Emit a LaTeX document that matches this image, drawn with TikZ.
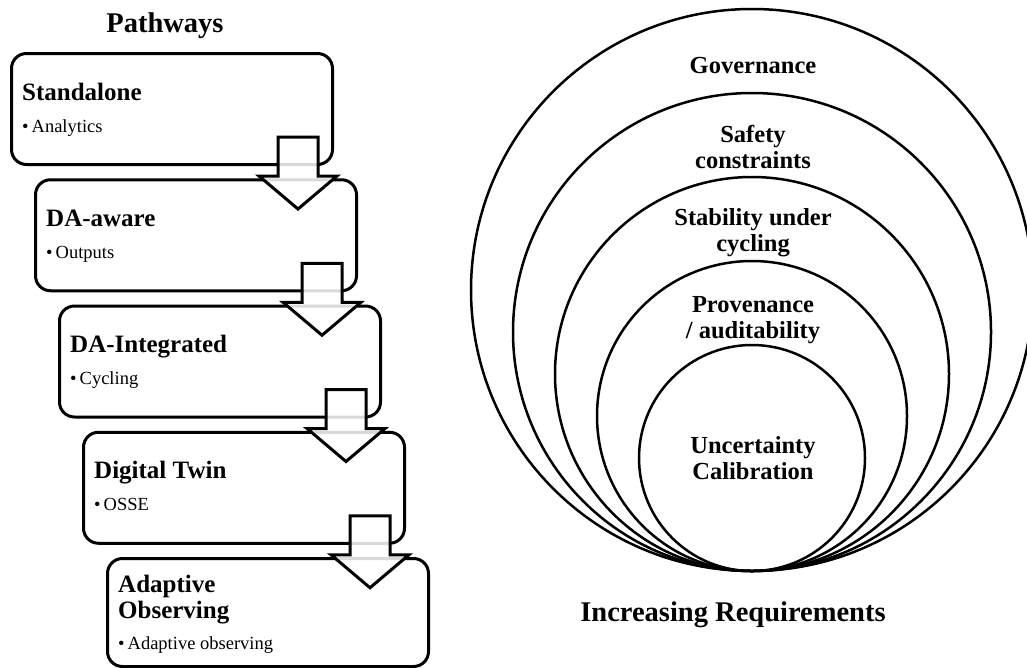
\documentclass[tikz,border=0pt]{standalone}
\usepackage{fontspec}
\setmainfont{Liberation Serif}

\tikzset{
	stage/.style={draw, line width=3pt, rounded corners=15pt, minimum width=321pt, minimum height=111pt, inner sep=0pt, anchor=north west},
	stagetitle/.style={anchor=base west, inner sep=0pt, align=left, font=\fontsize{25}{26}\selectfont\bfseries},
	stageitem/.style={anchor=base west, inner sep=0pt, font=\fontsize{18.5}{20}\selectfont},
	flow/.style={draw, line width=3pt, fill=white, fill opacity=.85, line join=miter},
	ring/.style={line width=2.5pt},
	ringlabel/.style={anchor=base, inner sep=0pt, align=center, font=\fontsize{24.5}{26}\selectfont\bfseries},
	heading/.style={anchor=base, inner sep=0pt, font=\fontsize{28.5}{30}\selectfont\bfseries}
}

% block arrow hanging off the lower right corner of a stage
\newcommand\flowarrow[1]{\draw[flow] (#1.south east) ++(-56,-29) -- ++(40,0) -- ++(0,39) -- ++(19,0) -- ++(-39,33) -- ++(-39,-33) -- ++(19,0) -- cycle;}

\begin{document}
\begin{tikzpicture}[x=1pt, y=-1pt]
	\useasboundingbox (0,0) rectangle (1027,667);

	% pathways
	\node[heading] (pathways) at (165,32) {Pathways};
	\node[stage] (s1) at (10,52)      {};
	\node[stage] (s2) at (34,178.25)  {};
	\node[stage] (s3) at (58,304.5)   {};
	\node[stage] (s4) at (82,430.75)  {};
	\node[stage, minimum height=108pt] (s5) at (106,557) {};

	\node[stagetitle] (t1) at ([shift={(12,48)}]s1.north west) {Standalone};
	\node[stageitem]  (i1) at ([shift={(12,80)}]s1.north west) {\textbullet\hspace{3pt}Analytics};
	\node[stagetitle] (t2) at ([shift={(12,48)}]s2.north west) {DA-aware};
	\node[stageitem]  (i2) at ([shift={(12,80)}]s2.north west) {\textbullet\hspace{3pt}Outputs};
	\node[stagetitle] (t3) at ([shift={(12,48)}]s3.north west) {DA-Integrated};
	\node[stageitem]  (i3) at ([shift={(12,80)}]s3.north west) {\textbullet\hspace{3pt}Cycling};
	\node[stagetitle] (t4) at ([shift={(12,48)}]s4.north west) {Digital Twin};
	\node[stageitem]  (i4) at ([shift={(12,80)}]s4.north west) {\textbullet\hspace{3pt}OSSE};
	% two-line title: base sits on the second line
	\node[stagetitle] (t5) at ([shift={(12,61)}]s5.north west) {Adaptive\\Observing};
	\node[stageitem]  (i5) at ([shift={(12,92)}]s5.north west) {\textbullet\hspace{3pt}Adaptive observing};

	\flowarrow{s1}
	\flowarrow{s2}
	\flowarrow{s3}
	\flowarrow{s4}

	% nested requirements
	\foreach \r in {281,239,197,155,113}
		\draw[ring] (752,571-\r) circle[radius=\r pt];

	\node[ringlabel] (gov)  at (753,73)  {Governance};
	\node[ringlabel] (safe) at (753,168) {Safety\\constraints};
	\node[ringlabel] (stab) at (753,251) {Stability under\\cycling};
	\node[ringlabel] (prov) at (753,338) {Provenance\\/ auditability};
	\node[ringlabel] (unc)  at (753,479) {Uncertainty\\Calibration};

	\node[heading] (reqs) at (733,621) {Increasing Requirements};
\end{tikzpicture}
\end{document}
